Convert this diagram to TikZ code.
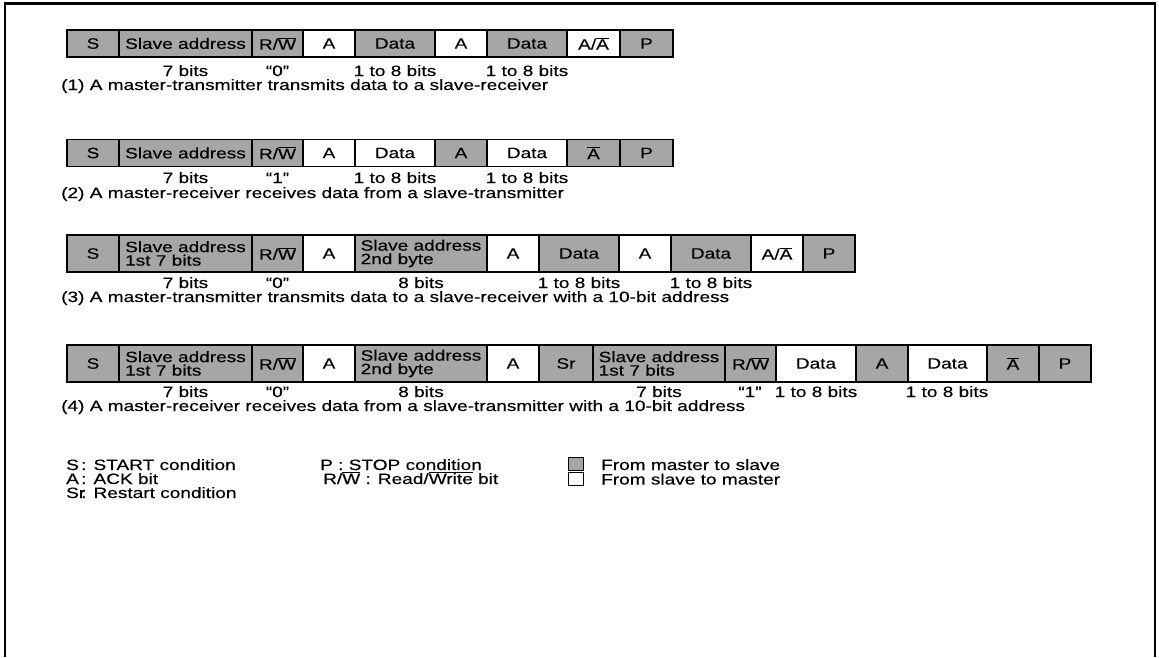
\documentclass[tikz,border=0pt]{standalone}
\usepackage{fontspec}
\setmainfont{Liberation Sans}[FakeStretch=1.27,FakeBold=0.3]
\newcommand\myovl[1]{$\overline{\mbox{#1}}$}
\begin{document}
\begin{tikzpicture}[x=1pt,y=-1pt,
  cell/.style={draw=black, line width=1.3pt, inner sep=0pt, outer sep=0pt, anchor=west,
    minimum height=#1, font=\fontsize{15}{13.5}\selectfont, align=left},
  ms/.style={cell=#1, fill=black!35},
  sm/.style={cell=#1, fill=white},
  lbl/.style={font=\fontsize{15}{15}\selectfont, inner sep=0pt, anchor=base},
  captxt/.style={lbl, anchor=base west},
  lgbox/.style={draw=black, line width=1pt, minimum width=15pt, minimum height=13pt, inner sep=0pt},
]
\useasboundingbox (0,0) rectangle (1159,657);
\fill[white] (0,0) rectangle (1159,657);
% frame
\draw[line width=2.6pt] (5,657) -- (5,3.5) -- (1155,3.5) -- (1155,657);

% ---------- Row 1 ----------
\node[ms=27, minimum width=52] (r1s)  at (67,43.5)  {S};
\node[ms=27, minimum width=133] (r1sa) at (119,43.5) {Slave address};
\node[ms=27, minimum width=51] (r1rw) at (252,43.5) {R/\myovl{W}};
\node[sm=27, minimum width=52] (r1a1) at (303,43.5) {A};
\node[ms=27, minimum width=80] (r1d1) at (355,43.5) {Data};
\node[sm=27, minimum width=52] (r1a2) at (435,43.5) {A};
\node[ms=27, minimum width=80] (r1d2) at (487,43.5) {Data};
\node[sm=27, minimum width=53] (r1aa) at (567,43.5) {A/\myovl{A}};
\node[ms=27, minimum width=53] (r1p)  at (620,43.5) {P};
\node[lbl] (r1l1) at (185.5,76) {7 bits};
\node[lbl] (r1l2) at (277.5,76) {“0”};
\node[lbl] (r1l3) at (395,76) {1 to 8 bits};
\node[lbl] (r1l4) at (527,76) {1 to 8 bits};
\node[captxt] (r1c) at (61,90) {(1) A master-transmitter transmits data to a slave-receiver};

% ---------- Row 2 ----------
\node[ms=27, minimum width=52] (r2s)  at (67,153)  {S};
\node[ms=27, minimum width=133] (r2sa) at (119,153) {Slave address};
\node[ms=27, minimum width=51] (r2rw) at (252,153) {R/\myovl{W}};
\node[sm=27, minimum width=52] (r2a1) at (303,153) {A};
\node[sm=27, minimum width=80] (r2d1) at (355,153) {Data};
\node[ms=27, minimum width=52] (r2a2) at (435,153) {A};
\node[sm=27, minimum width=80] (r2d2) at (487,153) {Data};
\node[ms=27, minimum width=53] (r2na) at (567,153) {\myovl{A}};
\node[ms=27, minimum width=53] (r2p)  at (620,153) {P};
\node[lbl] (r2l1) at (185.5,183) {7 bits};
\node[lbl] (r2l2) at (277.5,183) {“1”};
\node[lbl] (r2l3) at (395,183) {1 to 8 bits};
\node[lbl] (r2l4) at (527,183) {1 to 8 bits};
\node[captxt] (r2c) at (61,198) {(2) A master-receiver receives data from a slave-transmitter};

% ---------- Row 3 ----------
\node[ms=37, minimum width=52] (r3s)   at (67,253.5)  {S};
\node[ms=37, minimum width=133] (r3sa1) at (119,253.5) {Slave address\\1st 7 bits};
\node[ms=37, minimum width=51] (r3rw)  at (252,253.5) {R/\myovl{W}};
\node[sm=37, minimum width=52] (r3a1)  at (303,253.5) {A};
\node[ms=37, minimum width=132] (r3sa2) at (355,253.5) {Slave address\\2nd byte};
\node[sm=37, minimum width=52] (r3a2)  at (487,253.5) {A};
\node[ms=37, minimum width=80] (r3d1)  at (539,253.5) {Data};
\node[sm=37, minimum width=52] (r3a3)  at (619,253.5) {A};
\node[ms=37, minimum width=80] (r3d2)  at (671,253.5) {Data};
\node[sm=37, minimum width=52] (r3aa)  at (751,253.5) {A/\myovl{A}};
\node[ms=37, minimum width=52] (r3p)   at (803,253.5) {P};
\node[lbl] (r3l1) at (185.5,288) {7 bits};
\node[lbl] (r3l2) at (277.5,288) {“0”};
\node[lbl] (r3l3) at (421,288) {8 bits};
\node[lbl] (r3l4) at (579,288) {1 to 8 bits};
\node[lbl] (r3l5) at (711,288) {1 to 8 bits};
\node[captxt] (r3c) at (61,302) {(3) A master-transmitter transmits data to a slave-receiver with a 10-bit address};

% ---------- Row 4 ----------
\node[ms=37, minimum width=52] (r4s)   at (67,363.5)  {S};
\node[ms=37, minimum width=133] (r4sa1) at (119,363.5) {Slave address\\1st 7 bits};
\node[ms=37, minimum width=51] (r4rw)  at (252,363.5) {R/\myovl{W}};
\node[sm=37, minimum width=52] (r4a1)  at (303,363.5) {A};
\node[ms=37, minimum width=132] (r4sa2) at (355,363.5) {Slave address\\2nd byte};
\node[sm=37, minimum width=52] (r4a2)  at (487,363.5) {A};
\node[ms=37, minimum width=54] (r4sr)  at (539,363.5) {Sr};
\node[ms=37, minimum width=132] (r4sa3) at (593,363.5) {Slave address\\1st 7 bits};
\node[ms=37, minimum width=51] (r4rw2) at (725,363.5) {R/\myovl{W}};
\node[sm=37, minimum width=80] (r4d1)  at (776,363.5) {Data};
\node[ms=37, minimum width=52] (r4a3)  at (856,363.5) {A};
\node[sm=37, minimum width=79] (r4d2)  at (908,363.5) {Data};
\node[ms=37, minimum width=52] (r4na)  at (987,363.5) {\myovl{A}};
\node[ms=37, minimum width=52] (r4p)   at (1039,363.5) {P};
\node[lbl] (r4l1) at (185.5,397) {7 bits};
\node[lbl] (r4l2) at (277.5,397) {“0”};
\node[lbl] (r4l3) at (421,397) {8 bits};
\node[lbl] (r4l4) at (659,397) {7 bits};
\node[lbl] (r4l5) at (750,397) {“1”};
\node[lbl] (r4l6) at (816,397) {1 to 8 bits};
\node[lbl] (r4l7) at (947,397) {1 to 8 bits};
\node[captxt] (r4c) at (61,411) {(4) A master-receiver receives data from a slave-transmitter with a 10-bit address};

% ---------- Legend ----------
\node[captxt] (lgS)  at (66,470) {S};
\node[captxt] (lgSt) at (81,470) {: START condition};
\node[captxt] (lgA)  at (66,484) {A};
\node[captxt] (lgAt) at (81,484) {: ACK bit};
\node[captxt] (lgSr) at (66,498) {Sr};
\node[captxt] (lgSrt) at (81,498) {: Restart condition};
\node[captxt] (lgP)  at (320,470) {P : STOP condition};
\node[captxt] (lgRW) at (323,484) {R/\myovl{W} : Read/\myovl{Write} bit};
\node[lgbox, fill=black!35] (lgms) at (576,464) {};
\node[lgbox, fill=white] (lgsm) at (576,478.5) {};
\node[captxt] (lgmst) at (601,470) {From master to slave};
\node[captxt] (lgsmt) at (601,484.5) {From slave to master};
\end{tikzpicture}
\end{document}
